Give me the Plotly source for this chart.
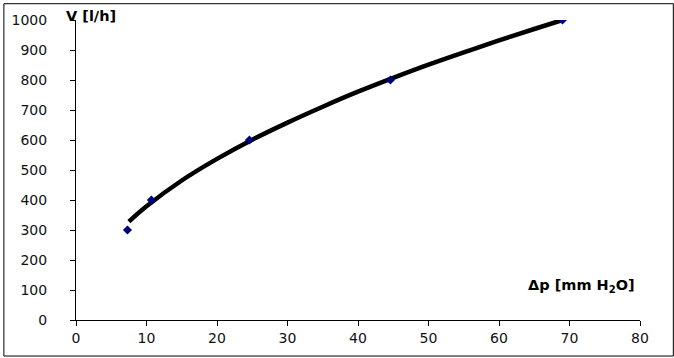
import plotly.graph_objects as go

# measured points
dp_points = [7.3, 10.7, 24.6, 44.6, 69.0]
v_points = [300, 400, 600, 800, 1000]

# trend curve
dp_curve = [7.5, 10, 15, 20, 25, 30, 35, 40, 45, 50, 55, 60, 65, 69]
v_curve = [328, 379, 465, 537, 601, 658, 711, 761, 807, 851, 892, 932, 970, 1000]

x_ticks = [0, 10, 20, 30, 40, 50, 60, 70, 80]
y_ticks = [0, 100, 200, 300, 400, 500, 600, 700, 800, 900, 1000]

W, H = 674, 358
L, R, T, B = 73, 34, 17, 37
pw, ph = W - L - R, H - T - B

fig = go.Figure()
fig.add_trace(go.Scatter(x=dp_curve, y=v_curve, mode="lines",
                         line=dict(color="black", width=4.5, shape="spline"),
                         showlegend=False, hoverinfo="skip"))
fig.add_trace(go.Scatter(x=dp_points, y=v_points, mode="markers",
                         marker=dict(symbol="diamond", color="#000080", size=7),
                         showlegend=False))

font = dict(family="DejaVu Sans", size=14, color="#111111")
fig.update_layout(
    width=W, height=H,
    margin=dict(l=L, r=R, t=T, b=B),
    paper_bgcolor="white", plot_bgcolor="white",
    font=font,
    xaxis=dict(range=[0, 80], tickvals=x_ticks, showgrid=False, zeroline=False,
               showline=True, linecolor="black", linewidth=1,
               ticks="outside", ticklen=5, tickcolor="black"),
    yaxis=dict(range=[0, 1000], tickvals=y_ticks, showgrid=False, zeroline=False,
               showline=True, linecolor="black", linewidth=1,
               ticks="outside", ticklen=5, tickcolor="black",
               ticklabelstandoff=20),
    shapes=[dict(type="rect", xref="paper", yref="paper",
                 x0=(-L + 0.5) / pw, x1=(pw + R - 0.5) / pw,
                 y0=(-B + 0.5) / ph, y1=(ph + T - 0.5) / ph,
                 line=dict(color="black", width=1), layer="above")],
    annotations=[
        dict(text="<b>V [l/h]</b>", x=0.0, y=1000, xref="x", yref="y", xanchor="left",
             yanchor="middle", xshift=-12, yshift=4, showarrow=False,
             font=dict(family="DejaVu Sans", size=14.5, color="black")),
        dict(text="<b>Δp [mm H<sub>2</sub>O]</b>", x=79.6, y=112, xref="x", yref="y",
             xanchor="right", yanchor="middle", showarrow=False,
             font=dict(family="DejaVu Sans", size=14.5, color="black")),
    ],
)
fig.write_html("out.html")
